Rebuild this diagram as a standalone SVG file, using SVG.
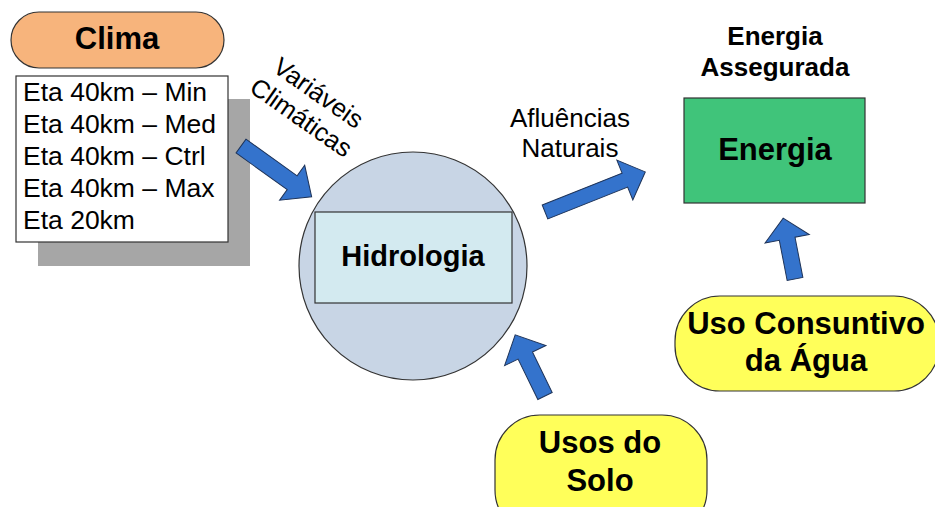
<svg xmlns="http://www.w3.org/2000/svg" width="935" height="507" viewBox="0 0 935 507">
<style>
.b{font-family:"Liberation Sans",Arial,sans-serif;font-weight:bold;fill:#000;text-anchor:middle}
.r{font-family:"Liberation Sans",Arial,sans-serif;fill:#000}
.arrow{fill:#3473CC;stroke:#1E3358;stroke-width:1}
.pill{stroke:#333;stroke-width:1.2}
</style>
<rect width="935" height="507" fill="#fff"/>
<g id="clima">
<rect class="pill" x="11" y="12" width="213" height="56" rx="28" fill="#F7B47C"/>
<text class="b" x="117" y="49" font-size="31">Clima</text>
</g>
<g id="modelos">
<rect x="38" y="99" width="212" height="167" fill="#A6A6A6"/>
<rect x="16" y="76" width="212" height="166" fill="#fff" stroke="#333" stroke-width="1.2"/>
<g class="r" font-size="26.5">
<text x="23" y="101">Eta 40km – Min</text>
<text x="23" y="133">Eta 40km – Med</text>
<text x="23" y="165">Eta 40km – Ctrl</text>
<text x="23" y="197">Eta 40km – Max</text>
<text x="23" y="229">Eta 20km</text>
</g>
</g>
<g id="hidrologia">
<circle cx="413" cy="266" r="114" fill="#C8D5E5" stroke="#333" stroke-width="1.2"/>
<rect x="315" y="212" width="197" height="91" fill="#D3EAF0" stroke="#333" stroke-width="1.2"/>
<text class="b" x="413" y="266" font-size="29">Hidrologia</text>
</g>
<g id="energia">
<text class="b" x="775" y="45" font-size="26">Energia</text>
<text class="b" x="775" y="76" font-size="26">Assegurada</text>
<rect x="684" y="98" width="181" height="105" fill="#40C47A" stroke="#333" stroke-width="1.2"/>
<text class="b" x="775" y="160" font-size="31">Energia</text>
</g>
<g id="uso-consuntivo">
<rect class="pill" x="675" y="296" width="264" height="95" rx="45" fill="#FFFF5A"/>
<text class="b" x="806" y="334" font-size="31">Uso Consuntivo</text>
<text class="b" x="806" y="371" font-size="31">da Água</text>
</g>
<g id="usos-solo">
<rect class="pill" x="495" y="415" width="212" height="120" rx="45" fill="#FFFF5A"/>
<text class="b" x="600" y="453" font-size="31">Usos do</text>
<text class="b" x="600" y="491" font-size="31">Solo</text>
</g>
<g id="connectors">
<g transform="translate(241,146) rotate(35.7)"><polygon class="arrow" points="0,-8.5 63,-8.5 63,-21.5 87,0 63,21.5 63,8.5 0,8.5"/></g>
<g transform="translate(545,212) rotate(-21.8)"><polygon class="arrow" points="0,-7.5 86,-7.5 86,-21.5 108,0 86,21.5 86,7.5 0,7.5"/></g>
<g transform="translate(795,279) rotate(-101)"><polygon class="arrow" points="0,-8 41,-8 41,-22.5 62,0 41,22.5 41,8 0,8"/></g>
<g transform="translate(545,396) rotate(-116)"><polygon class="arrow" points="0,-8 45,-8 45,-23 68,0 45,23 45,8 0,8"/></g>
<g transform="translate(310,105) rotate(35)" class="r" font-size="25.5" text-anchor="middle">
<text x="0" y="-6">Variáveis</text>
<text x="0" y="24">Climáticas</text>
</g>
<text class="r" x="570" y="127" font-size="26" text-anchor="middle">Afluências</text>
<text class="r" x="570" y="157" font-size="26" text-anchor="middle">Naturais</text>
</g>
</svg>
